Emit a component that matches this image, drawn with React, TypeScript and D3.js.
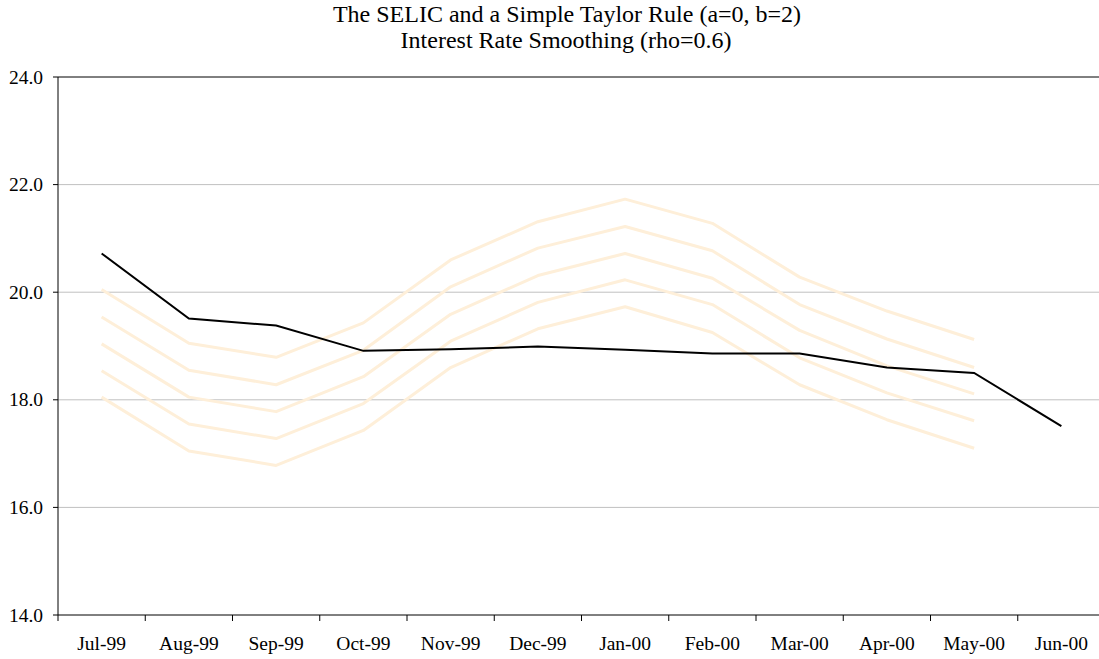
import React from 'react'
import * as d3 from 'd3'

const months = ['Jul-99', 'Aug-99', 'Sep-99', 'Oct-99', 'Nov-99', 'Dec-99', 'Jan-00', 'Feb-00', 'Mar-00', 'Apr-00', 'May-00', 'Jun-00']

// actual SELIC
const selic = [20.72, 19.51, 19.38, 18.91, 18.94, 18.99, 18.93, 18.86, 18.86, 18.6, 18.5, 17.51]

// Taylor rule bands (Jul-99 .. May-00)
const taylorTop = [20.05, 19.05, 18.79, 19.43, 20.6, 21.31, 21.73, 21.28, 20.28, 19.65, 19.12]
const taylorHigh = [19.54, 18.55, 18.28, 18.92, 20.1, 20.82, 21.22, 20.77, 19.77, 19.13, 18.6]
const taylorMid = [19.04, 18.05, 17.78, 18.43, 19.59, 20.31, 20.72, 20.26, 19.29, 18.63, 18.11]
const taylorLow = [18.54, 17.55, 17.28, 17.93, 19.09, 19.81, 20.23, 19.77, 18.78, 18.13, 17.61]
const taylorBottom = [18.05, 17.05, 16.78, 17.43, 18.6, 19.32, 19.73, 19.25, 18.28, 17.63, 17.1]

const yTicks = [14, 16, 18, 20, 22, 24]

const W = 1099
const H = 659
const left = 58
const right = 1105
const top = 77
const bottom = 615
const font = "'Liberation Serif', 'Times New Roman', Times, serif"

export default function App() {
  const x = d3.scaleBand<string>().domain(months).range([left, right]).padding(0)
  const y = d3.scaleLinear().domain([14, 24]).range([bottom, top])
  const cx = (i: number) => (x(months[i]) as number) + x.bandwidth() / 2

  const line = d3.line<number>().x((_, i) => cx(i)).y(d => y(d))
  const bands = [taylorTop, taylorHigh, taylorMid, taylorLow, taylorBottom]

  return (
    <svg width={W} height={H} style={{ position: 'absolute', left: 0, top: 0, fontFamily: font }}>
      <rect width={W} height={H} fill="#fff" />
      <text x={567} y={22} textAnchor="middle" fontSize={24}>The SELIC and a Simple Taylor Rule (a=0, b=2)</text>
      <text x={566} y={48} textAnchor="middle" fontSize={24}>Interest Rate Smoothing (rho=0.6)</text>

      {yTicks.filter(t => t > 14 && t < 24).map(t => (
        <line key={t} x1={left} x2={right} y1={y(t)} y2={y(t)} stroke="#c0c0c0" strokeWidth={1} />
      ))}
      <line x1={left} x2={right} y1={y(24)} y2={y(24)} stroke="#000" strokeWidth={1} />

      {bands.map((b, k) => (
        <path key={k} d={line(b) || ''} fill="none" stroke="#feefd9" strokeWidth={3} strokeLinejoin="round" />
      ))}
      <path d={line(selic) || ''} fill="none" stroke="#000" strokeWidth={2} />

      <line x1={left} x2={left} y1={top} y2={bottom} stroke="#000" strokeWidth={1} />
      <line x1={left} x2={right} y1={bottom} y2={bottom} stroke="#000" strokeWidth={1} />

      {yTicks.map(t => (
        <g key={t}>
          <line x1={left - 5} x2={left} y1={y(t)} y2={y(t)} stroke="#000" />
          <text x={43} y={y(t) + 6.5} textAnchor="end" fontSize={19.5}>{t.toFixed(1)}</text>
        </g>
      ))}

      {months.map((m, i) => (
        <g key={m}>
          <line x1={x(m) as number} x2={x(m) as number} y1={bottom} y2={bottom + 6} stroke="#000" />
          <text x={cx(i)} y={650} textAnchor="middle" fontSize={19.5}>{m}</text>
        </g>
      ))}
    </svg>
  )
}
